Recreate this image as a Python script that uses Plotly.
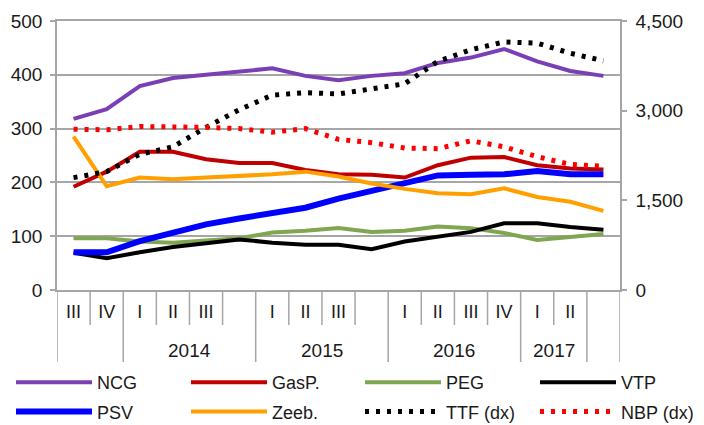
import plotly.graph_objects as go

# ---- data ----
quarter_labels = ["III", "IV", "I", "II", "III", "", "I", "II", "III", "", "I", "II", "III", "IV", "I", "II", ""]
year_labels = ["", "2014", "2015", "2016", "2017", ""]
year_groups = [(0, 1), (2, 5), (6, 9), (10, 13), (14, 15), (16, 16)]

ncg = [318, 336, 379, 394, 400, 406, 412, 398, 390, 398, 403, 422, 432, 448, 425, 407, 398]
gasp = [192, 220, 257, 257, 243, 236, 236, 223, 215, 214, 209, 232, 246, 247, 232, 226, 224]
peg = [96, 96, 90, 88, 92, 96, 107, 110, 115, 108, 110, 118, 115, 106, 93, 99, 104]
vtp = [69, 59, 70, 80, 87, 94, 88, 84, 84, 76, 90, 99, 108, 124, 124, 117, 112]
psv = [70, 70, 91, 106, 122, 133, 142, 153, 170, 185, 200, 213, 214, 215, 221, 215, 215]
zeeb = [285, 193, 209, 206, 209, 212, 215, 220, 211, 198, 188, 180, 178, 189, 173, 164, 147]
ttf = [1880, 1980, 2270, 2395, 2720, 3015, 3260, 3300, 3280, 3370, 3450, 3825, 4020, 4150, 4130, 3960, 3835]
nbp = [2690, 2680, 2735, 2735, 2720, 2700, 2640, 2700, 2520, 2465, 2375, 2365, 2495, 2395, 2230, 2100, 2070]

x = list(range(len(quarter_labels)))

FONT = "Liberation Sans, Arial, sans-serif"
GRID = "#a6a6a6"
TXT = "#1a1a1a"

series = [
    # name, values, color, width, dash, axis, legend
    ("NCG", ncg, "#7B3FB5", 4, "solid", "y", "legend"),
    ("GasP.", gasp, "#C00000", 4, "solid", "y", "legend2"),
    ("PEG", peg, "#7FA650", 4, "solid", "y", "legend3"),
    ("VTP", vtp, "#000000", 4, "solid", "y", "legend4"),
    ("PSV", psv, "#0000FF", 6, "solid", "y", "legend"),
    ("Zeeb.", zeeb, "#FFA000", 4, "solid", "y", "legend2"),
    ("TTF (dx)", ttf, "#000000", 5, "4px,7px", "y2", "legend3"),
    ("NBP (dx)", nbp, "#FF0000", 5, "4px,7px", "y2", "legend4"),
]

fig = go.Figure()
for name, vals, color, w, dash, ax, lg in series:
    fig.add_trace(go.Scatter(
        x=x, y=vals, name=name, mode="lines", yaxis=ax, legend=lg,
        legendgroup=name,
        line=dict(color=color, width=w, dash=dash),
        hoverinfo="skip",
    ))

# plot-area geometry (figure pixels)
ML, MR, MT, MB = 49, 92, 13, 143
W, H = 704, 425
PW = W - ML - MR
PH = H - MT - MB

short_len = 35 / PH
long_len = 72 / PH
long_pos = [-0.5] + [g[1] + 0.5 for g in year_groups]
short_pos = []
for a, b in year_groups:
    for k in range(a, b):
        short_pos.append(k + 0.5)
shapes = []
for p in long_pos:
    shapes.append(dict(type="line", xref="x", yref="paper", x0=p, x1=p, y0=0, y1=-long_len,
                       line=dict(color=GRID, width=1.5)))
for p in short_pos:
    shapes.append(dict(type="line", xref="x", yref="paper", x0=p, x1=p, y0=0, y1=-short_len,
                       line=dict(color=GRID, width=1.5)))

annotations = []
for (a, b), lab in zip(year_groups, year_labels):
    if lab:
        annotations.append(dict(text=lab, xref="x", yref="paper", x=(a + b) / 2, y=-60 / PH,
                                showarrow=False, xanchor="center", yanchor="middle",
                                font=dict(size=19, color=TXT, family=FONT)))

leg_common = dict(orientation="v", yanchor="top", xanchor="left", y=-74 / PH,
                  font=dict(size=18, color=TXT, family=FONT), itemwidth=76,
                  tracegroupgap=3, bgcolor="rgba(0,0,0,0)", borderwidth=0)
col_px = [3, 178, 352, 527]
legends = {}
for i, cx in enumerate(col_px):
    key = "legend" if i == 0 else f"legend{i+1}"
    legends[key] = dict(leg_common, x=(cx - ML) / PW)

fig.update_layout(
    width=W, height=H,
    margin=dict(l=ML, r=MR, t=MT, b=MB, autoexpand=False),
    paper_bgcolor="white", plot_bgcolor="white",
    font=dict(family=FONT, size=19, color=TXT),
    showlegend=True,
    xaxis=dict(range=[-0.5, 16.5], tickvals=x, ticktext=quarter_labels, ticks="",
               showgrid=False, zeroline=False, showline=True, linecolor=GRID, linewidth=1.5,
               mirror=True, tickfont=dict(size=18, color=TXT), ticklabelstandoff=5),
    yaxis=dict(range=[0, 500], tickvals=[0, 100, 200, 300, 400, 500], showgrid=True,
               gridcolor=GRID, gridwidth=1.5, zeroline=False, showline=True, linecolor=GRID,
               linewidth=1.5, ticks="outside", ticklen=5, tickcolor=GRID, tickwidth=1.5,
               tickfont=dict(size=19, color=TXT), ticklabelstandoff=4),
    yaxis2=dict(range=[0, 4500], tickvals=[0, 1500, 3000, 4500], tickformat=",",
                overlaying="y", side="right", showgrid=False, zeroline=False, showline=True,
                linecolor=GRID, linewidth=1.5, ticks="outside", ticklen=5, tickcolor=GRID,
                tickwidth=1.5, tickfont=dict(size=19, color=TXT), ticklabelstandoff=5),
    shapes=shapes,
    annotations=annotations,
    **legends,
)

fig.write_html("out.html")
